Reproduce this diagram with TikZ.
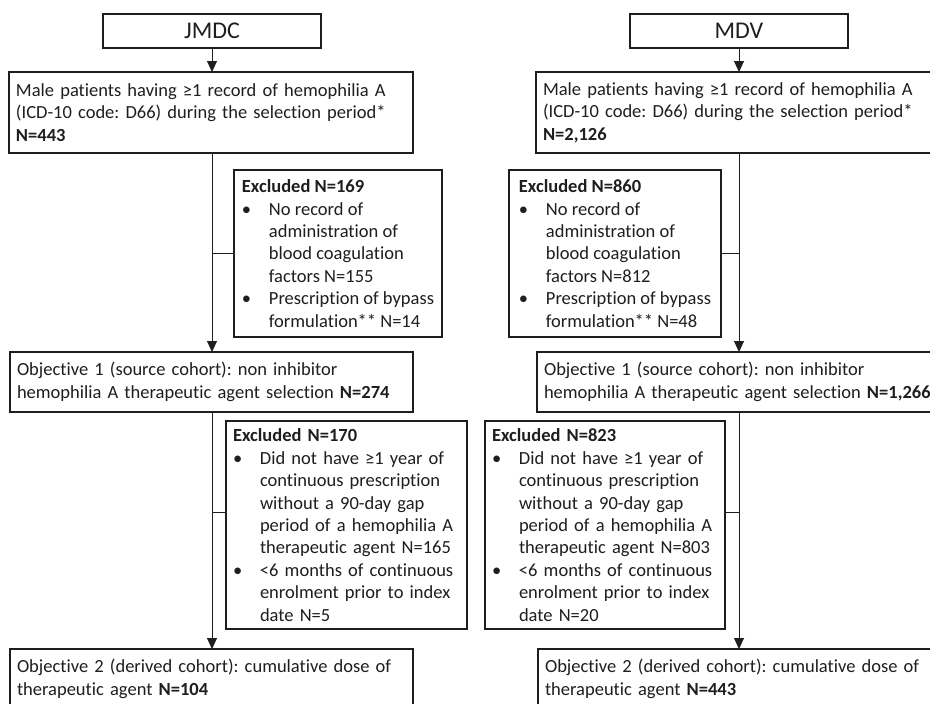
\documentclass[tikz,border=0pt]{standalone}
\usepackage{fontspec}
\setmainfont[Ligatures={NoCommon}]{Carlito}
\usetikzlibrary{arrows.meta}
\definecolor{ink}{HTML}{1E1E1E}
\newcommand{\bl}{\makebox[27pt][l]{•}}
\newcommand{\ind}{\hspace*{27pt}}
\frenchspacing
\begin{document}
\begin{tikzpicture}[x=1pt,y=-1pt,
  font=\fontsize{18.5}{22.4}\selectfont, text=ink,
  tbox/.style={draw=ink, line width=1.8pt, anchor=north west, align=left,
    inner xsep=7pt, inner ysep=0pt, outer sep=0pt},
  hbox/.style={draw=ink, line width=1.8pt, anchor=north west, align=center,
    inner sep=0pt, outer sep=0pt, minimum width=218pt, minimum height=34pt,
    font=\fontsize{24}{28}\selectfont},
  conn/.style={draw=ink, line width=0.9pt},
  arr/.style={conn, -{Triangle[width=10pt,length=11pt]}}]
\clip (0,0) rectangle (930,704);
\fill[white] (0,0) rectangle (930,704);

% headers
\node[hbox] (jmdc) at (103,14) {JMDC};
\node[hbox] (mdv) at (630,14) {MDV};

% left column
\node[tbox, minimum width=404pt, minimum height=81pt, text width=390pt] (l1) at (9,72)
  {Male patients having ≥1 record of hemophilia A\\(ICD-10 code: D66) during the selection period*\\\textbf{N=443}};
\node[tbox, minimum width=208pt, minimum height=167pt, inner xsep=6pt] (le1) at (234,170)
  {\textbf{Excluded N=169}\\\bl No record of\\\ind administration of\\\ind blood coagulation\\\ind factors N=155\\\bl Prescription of bypass\\\ind formulation** N=14};
\node[tbox, minimum width=403pt, minimum height=60pt, text width=389pt] (l2) at (10,352)
  {Objective 1 (source cohort): non inhibitor\\hemophilia A therapeutic agent selection \textbf{N=274}};
\node[tbox, minimum width=241pt, minimum height=208pt, text width=227pt] (le2) at (226,421)
  {\textbf{Excluded N=170}\\\bl Did not have ≥1 year of\\\ind continuous prescription\\\ind without a 90-day gap\\\ind period of a hemophilia A\\\ind therapeutic agent N=165\\\bl <6 months of continuous\\\ind enrolment prior to index\\\ind date N=5};
\node[tbox, minimum width=403pt, minimum height=60pt, text width=389pt] (l3) at (10,649)
  {Objective 2 (derived cohort): cumulative dose of\\therapeutic agent \textbf{N=104}};

% right column
\node[tbox, minimum width=408pt, minimum height=81pt, text width=394pt] (r1) at (536,72)
  {Male patients having ≥1 record of hemophilia A\\(ICD-10 code: D66) during the selection period*\\\textbf{N=2,126}};
\node[tbox, minimum width=212pt, minimum height=167pt, inner xsep=6pt] (re1) at (509,170)
  {\textbf{Excluded N=860}\\\bl No record of\\\ind administration of\\\ind blood coagulation\\\ind factors N=812\\\bl Prescription of bypass\\\ind formulation** N=48};
\node[tbox, minimum width=408pt, minimum height=60pt, text width=394pt] (r2) at (537,352)
  {Objective 1 (source cohort): non inhibitor\\hemophilia A therapeutic agent selection \textbf{N=1,266}};
\node[tbox, minimum width=240pt, minimum height=208pt, text width=226pt] (re2) at (485,421)
  {\textbf{Excluded N=823}\\\bl Did not have ≥1 year of\\\ind continuous prescription\\\ind without a 90-day gap\\\ind period of a hemophilia A\\\ind therapeutic agent N=803\\\bl <6 months of continuous\\\ind enrolment prior to index\\\ind date N=20};
\node[tbox, minimum width=408pt, minimum height=60pt, text width=394pt] (r3) at (538,649)
  {Objective 2 (derived cohort): cumulative dose of\\therapeutic agent \textbf{N=443}};

% left connectors
\draw[arr] (jmdc.south) -- (jmdc.south |- l1.north);
\draw[arr] (l1.south -| jmdc.south) -- (l2.north -| jmdc.south);
\draw[arr] (l2.south -| jmdc.south) -- (l3.north -| jmdc.south);
\draw[conn] (le1.west) -- (le1.west -| jmdc.south);
\coordinate (le2s) at ([yshift=-91pt]le2.north west);
\draw[conn] (le2s) -- (le2s -| jmdc.south);

% right connectors
\draw[arr] (mdv.south) -- (mdv.south |- r1.north);
\draw[arr] (r1.south -| mdv.south) -- (r2.north -| mdv.south);
\draw[arr] (r2.south -| mdv.south) -- (r3.north -| mdv.south);
\draw[conn] (re1.east) -- (re1.east -| mdv.south);
\coordinate (re2s) at ([yshift=-91pt]re2.north east);
\draw[conn] (re2s) -- (re2s -| mdv.south);
\end{tikzpicture}
\end{document}
